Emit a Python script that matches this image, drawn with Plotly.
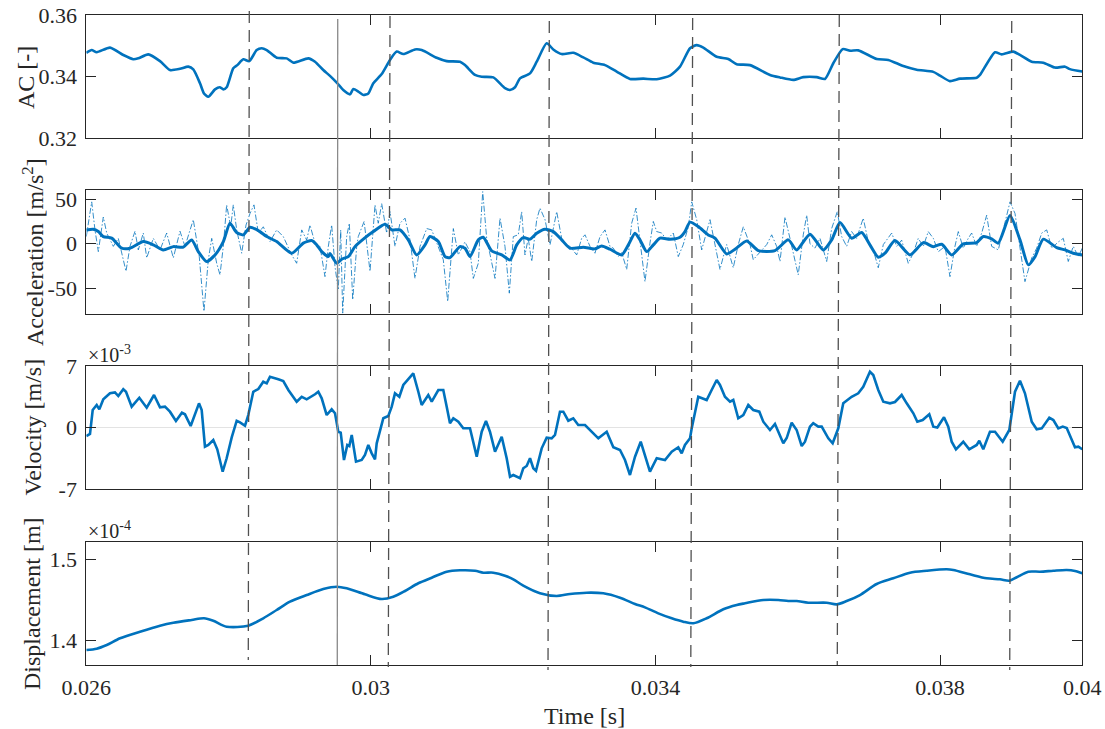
import numpy as np
import plotly.graph_objects as go

# ---------------- data (time in ms) ----------------
AC_T = [26.000, 26.076, 26.146, 26.333, 26.520, 26.661, 26.731, 26.871, 27.036, 27.176,
        27.317, 27.434, 27.504, 27.598, 27.654, 27.715, 27.809, 27.879, 27.926, 27.973,
        28.066, 28.122, 28.207, 28.291, 28.395, 28.465, 28.536, 28.676, 28.817, 28.910,
        29.120, 29.215, 29.331, 29.425, 29.520, 29.612, 29.707, 29.753, 29.823, 29.894,
        29.964, 30.034, 30.152, 30.269, 30.363, 30.456, 30.620, 30.714, 30.925, 31.066,
        31.253, 31.323, 31.464, 31.558, 31.721, 31.885, 31.956, 32.026, 32.096, 32.237,
        32.331, 32.471, 32.564, 32.682, 32.845, 32.986, 33.126, 33.291, 33.455, 33.642,
        33.829, 34.018, 34.205, 34.345, 34.486, 34.580, 34.673, 34.861, 35.024, 35.142,
        35.329, 35.610, 35.751, 35.938, 36.078, 36.267, 36.383, 36.500, 36.632, 36.735,
        36.851, 37.110, 37.273, 37.484, 37.672, 37.906, 38.000, 38.140, 38.281, 38.516,
        38.562, 38.773, 38.867, 39.030, 39.124, 39.289, 39.452, 39.616, 39.757, 39.827,
        40.000]
AC_V = [0.3477, 0.3486, 0.3479, 0.3494, 0.3470, 0.3456, 0.3459, 0.3472, 0.3450, 0.3421,
        0.3425, 0.3432, 0.3423, 0.3378, 0.3345, 0.3334, 0.3358, 0.3365, 0.3358, 0.3365,
        0.3427, 0.3437, 0.3456, 0.3450, 0.3486, 0.3492, 0.3486, 0.3461, 0.3459, 0.3445,
        0.3459, 0.3448, 0.3421, 0.3402, 0.3380, 0.3356, 0.3342, 0.3359, 0.3351, 0.3340,
        0.3345, 0.3378, 0.3408, 0.3454, 0.3481, 0.3473, 0.3488, 0.3486, 0.3461, 0.3450,
        0.3448, 0.3437, 0.3405, 0.3399, 0.3397, 0.3362, 0.3356, 0.3365, 0.3394, 0.3410,
        0.3448, 0.3508, 0.3488, 0.3473, 0.3477, 0.3462, 0.3445, 0.3437, 0.3416, 0.3392,
        0.3393, 0.3391, 0.3403, 0.3432, 0.3492, 0.3502, 0.3494, 0.3464, 0.3457, 0.3440,
        0.3437, 0.3405, 0.3397, 0.3389, 0.3398, 0.3398, 0.3392, 0.3443, 0.3489, 0.3484,
        0.3485, 0.3457, 0.3454, 0.3434, 0.3422, 0.3415, 0.3403, 0.3385, 0.3393, 0.3396,
        0.3405, 0.3479, 0.3472, 0.3481, 0.3470, 0.3448, 0.3445, 0.3429, 0.3432, 0.3424,
        0.3416]

ACC_RAW_T = [26.000, 26.076, 26.122, 26.169, 26.239, 26.287, 26.380, 26.450, 26.558, 26.614,
             26.685, 26.731, 26.801, 26.849, 26.942, 27.036, 27.130, 27.223, 27.317, 27.387,
             27.504, 27.588, 27.654, 27.715, 27.763, 27.833, 27.879, 27.926, 27.973, 28.030,
             28.066, 28.114, 28.184, 28.245, 28.301, 28.357, 28.418, 28.488, 28.582, 28.676,
             28.769, 28.887, 28.957, 29.028, 29.098, 29.144, 29.215, 29.285, 29.355, 29.402,
             29.449, 29.496, 29.542, 29.576, 29.604, 29.660, 29.697, 29.745, 29.801, 29.823,
             29.905, 29.988, 30.058, 30.104, 30.152, 30.222, 30.269, 30.339, 30.409, 30.480,
             30.550, 30.620, 30.691, 30.785, 30.855, 30.948, 31.018, 31.080, 31.159, 31.229,
             31.323, 31.393, 31.440, 31.510, 31.572, 31.628, 31.674, 31.745, 31.815, 31.885,
             31.946, 32.002, 32.072, 32.120, 32.166, 32.212, 32.261, 32.331, 32.377, 32.448,
             32.518, 32.612, 32.682, 32.729, 32.799, 32.893, 32.963, 33.010, 33.080, 33.150,
             33.221, 33.291, 33.361, 33.408, 33.478, 33.526, 33.596, 33.666, 33.727, 33.783,
             33.853, 33.923, 33.970, 34.018, 34.088, 34.158, 34.251, 34.321, 34.391, 34.462,
             34.510, 34.580, 34.650, 34.767, 34.837, 34.907, 34.954, 35.001, 35.094, 35.164,
             35.235, 35.329, 35.375, 35.470, 35.564, 35.634, 35.704, 35.751, 35.821, 35.891,
             36.007, 36.078, 36.126, 36.172, 36.242, 36.313, 36.407, 36.477, 36.556, 36.618,
             36.688, 36.758, 36.828, 36.921, 36.992, 37.062, 37.132, 37.203, 37.321, 37.391,
             37.461, 37.554, 37.625, 37.694, 37.765, 37.835, 37.906, 37.976, 38.070, 38.140,
             38.210, 38.257, 38.327, 38.397, 38.445, 38.516, 38.586, 38.656, 38.726, 38.819,
             38.889, 38.984, 39.054, 39.124, 39.194, 39.289, 39.359, 39.430, 39.500, 39.570,
             39.663, 39.733, 39.803, 39.873, 39.944, 40.000]
ACC_RAW_V = [8, 47, 15.5, -8.9, 30, 12, -3, 6, -31, -3,
             14, -7, 12, -16, 6, -7, 12, -16, 14, -3,
             27, -14.5, -76, -18, 6, -22, -35, -3, 43.6, 19,
             43.6, 15.5, -10.7, 21, 34, 43.6, 12, 19, 2.4, 15.5,
             8, -12.6, -22, 15.5, 4, 21, 0.6, -3, -37, -3,
             21, -26, -52, 15.5, -78, 8, 23, -63, -3, 8,
             25, -31, 43.6, 23, 45, 12, 36, -3, 23, 28.7,
             4.3, -39, -3, 17, 15.5, -3, -18, -65, 17, -12.6,
             2, -9, -39, -22, 58.5, 6, -12.6, -39, 28.7, -3,
             -55.6, 8, 10, 36, -12.6, 6, -20, 27, 40, 27,
             -1.3, 36, 6, -1.3, -3, -12.6, 6, 10, -3, -10.7,
             8, 15.5, -3, -5, -14.5, -10, -29, 23, 40, 6,
             -42.6, 0.6, 25, 13.6, 12, 4.3, 12, -14.5, -1, 19,
             47, 27, -7, 27, -1, -29, -14.5, -1, -27, -1,
             19, -1, -18, -9, -1, 10, -3, -20, 30, 6,
             -35, 10, 32, 0, -5, 6, -20, 17, 36, 8,
             -3, 13.6, 6, 28.7, 2, -7, -27, -1, 12, -3,
             4, -22, -10.5, 6, -3, 13.6, 6, -9, -3, -37,
             -3, 13.6, -5, 6, 12, -3, 12, 32, -3, -7,
             15.5, 47, 34, -3, -42.6, -16, -5, 12, 15.5, -5,
             2, 6, -20, -3, -14.5, -5]

ACC_SM_T = [26.000, 26.098, 26.169, 26.239, 26.357, 26.498, 26.614, 26.801, 26.942, 27.082,
            27.223, 27.363, 27.481, 27.574, 27.692, 27.809, 27.926, 28.020, 28.114, 28.207,
            28.301, 28.418, 28.536, 28.676, 28.887, 29.050, 29.168, 29.238, 29.309, 29.402,
            29.425, 29.520, 29.590, 29.683, 29.777, 29.894, 30.034, 30.199, 30.293, 30.409,
            30.526, 30.644, 30.761, 30.831, 30.948, 31.042, 31.112, 31.253, 31.323, 31.393,
            31.510, 31.580, 31.698, 31.839, 31.956, 32.050, 32.142, 32.237, 32.331, 32.448,
            32.564, 32.682, 32.799, 32.986, 33.150, 33.244, 33.361, 33.526, 33.619, 33.713,
            33.783, 33.877, 33.970, 34.064, 34.205, 34.345, 34.415, 34.486, 34.602, 34.742,
            34.837, 35.001, 35.118, 35.283, 35.446, 35.680, 35.867, 35.985, 36.172, 36.359,
            36.477, 36.594, 36.758, 36.899, 37.015, 37.132, 37.227, 37.367, 37.578, 37.765,
            37.906, 38.024, 38.164, 38.327, 38.516, 38.608, 38.726, 38.819, 38.984, 39.124,
            39.241, 39.336, 39.452, 39.640, 39.757, 39.873, 40.000]
ACC_SM_V = [15.5, 16.3, 13.6, 8.0, 6.2, -5.1, -5.1, 2.4, -1.3, -7.0,
            -3.3, -3.9, 4.3, -8.9, -20.1, -12.6, 2.4, 23.0, 12.5, 9.9,
            18.5, 14.7, 8.0, 2.4, -10.7, 0.6, 3.5, -1.3, -8.9, -14.5,
            -11.0, -21.9, -17.4, -14.5, -3.3, 5.1, 13.6, 21.9, 15.5, 15.5,
            4.3, -12.6, -1.3, 8.0, 2.4, -14.5, -15.6, -3.3, -5.1, -14.5,
            4.3, 7.3, -8.1, -12.6, -18.2, -1.3, 6.9, 5.1, 11.8, 16.3,
            13.6, 4.3, -5.1, -3.9, -5.8, -2.5, -6.2, -12.6, -1.3, 11.8,
            4.3, -8.9, -1.3, 6.2, 5.1, 7.3, 13.6, 24.2, 19.2, 9.9,
            6.2, -11.5, -6.2, 3.1, -7.8, -7.8, 4.3, -7.0, 10.7, -7.0,
            4.3, 23.7, 6.2, 12.5, -1.3, -15.2, -10.7, 3.5, -12.6, 1.2,
            -3.3, -0.6, -12.6, -0.2, 1.2, 8.0, 5.4, 0.6, 31.6, 4.3,
            -23.8, -14.5, 5.1, -4.4, -7.0, -10.7, -12.6]

# velocity in units of 1e-3 m/s
VEL_T = [26.000, 26.052, 26.090, 26.146, 26.183, 26.239, 26.333, 26.403, 26.450, 26.520,
         26.558, 26.638, 26.745, 26.849, 26.952, 27.036, 27.106, 27.176, 27.260, 27.344,
         27.387, 27.467, 27.584, 27.622, 27.668, 27.715, 27.785, 27.841, 27.917, 27.973,
         28.044, 28.114, 28.160, 28.231, 28.277, 28.347, 28.418, 28.488, 28.536, 28.582,
         28.699, 28.769, 28.840, 28.957, 29.028, 29.098, 29.215, 29.261, 29.309, 29.379,
         29.449, 29.496, 29.542, 29.576, 29.622, 29.669, 29.697, 29.731, 29.791, 29.871,
         29.917, 29.964, 30.012, 30.058, 30.082, 30.175, 30.245, 30.293, 30.339, 30.400,
         30.456, 30.512, 30.596, 30.667, 30.714, 30.807, 30.855, 30.948, 31.018, 31.066,
         31.112, 31.159, 31.229, 31.299, 31.393, 31.488, 31.558, 31.618, 31.674, 31.745,
         31.839, 31.909, 31.956, 32.002, 32.096, 32.142, 32.190, 32.237, 32.283, 32.321,
         32.401, 32.471, 32.541, 32.588, 32.658, 32.705, 32.775, 32.845, 32.915, 33.010,
         33.080, 33.197, 33.315, 33.408, 33.502, 33.572, 33.642, 33.713, 33.793, 33.853,
         33.923, 34.018, 34.134, 34.229, 34.321, 34.369, 34.415, 34.486, 34.510, 34.602,
         34.720, 34.790, 34.861, 34.907, 34.977, 35.048, 35.094, 35.164, 35.235, 35.305,
         35.375, 35.460, 35.516, 35.610, 35.680, 35.797, 35.845, 35.915, 35.985, 36.056,
         36.102, 36.172, 36.218, 36.289, 36.337, 36.430, 36.491, 36.570, 36.640, 36.758,
         36.851, 36.921, 37.015, 37.062, 37.132, 37.203, 37.297, 37.367, 37.461, 37.532,
         37.625, 37.681, 37.756, 37.849, 37.906, 37.962, 38.056, 38.116, 38.164, 38.224,
         38.327, 38.411, 38.516, 38.552, 38.608, 38.702, 38.773, 38.881, 38.974, 39.054,
         39.124, 39.194, 39.289, 39.359, 39.430, 39.536, 39.593, 39.663, 39.725, 39.781,
         39.897, 39.944, 40.000]
VEL_V = [-0.97, -0.74, 1.99, 2.56, 2.07, 3.21, 3.89, 4.00, 3.58, 4.35,
         4.07, 2.37, 3.39, 2.25, 3.70, 2.30, 2.37, 1.80, 0.74, 1.68,
         1.50, 0.17, 2.75, 1.99, -2.18, -1.99, -1.42, -2.48, -5.03, -3.50,
         -1.12, 0.77, 0.59, 0.20, 1.42, 4.07, 4.38, 5.21, 5.03, 5.78,
         5.49, 5.29, 4.27, 2.94, 3.50, 3.21, 3.78, 4.07, 3.32, 1.42,
         2.07, 1.62, -0.48, -0.59, -3.70, -1.99, -2.11, -0.85, -3.89, -3.70,
         -3.13, -1.99, -2.94, -3.62, -1.80, 1.05, 1.31, 2.37, 3.89, 3.50,
         4.84, 5.41, 6.17, 4.07, 2.56, 3.70, 2.94, 4.27, 4.27, 2.37,
         0.48, 1.05, 0.66, -0.09, -0.09, -3.32, -0.48, 0.74, -0.48, -2.75,
         -1.05, -3.50, -5.60, -5.41, -5.78, -4.64, -4.38, -3.50, -4.64, -4.92,
         -2.37, -1.16, -1.23, -0.85, 1.80, 1.80, 0.77, 1.05, 0.28, 0.28,
         -0.28, -1.23, -0.48, -2.25, -2.56, -3.70, -5.41, -3.32, -1.62, -3.32,
         -5.03, -3.50, -3.70, -2.75, -2.25, -2.94, -1.99, -1.23, -0.09, 3.50,
         3.13, 4.27, 5.41, 4.84, 3.50, 2.94, 3.13, 1.05, 1.42, 2.56,
         1.99, 1.80, 0.66, -0.28, 0.40, -1.80, -1.20, 0.55, -0.28, -2.11,
         -1.62, 0.09, 0.48, 0.10, 0.10, -1.23, -1.80, -0.09, 2.75, 3.50,
         3.89, 4.64, 6.35, 5.97, 4.27, 2.94, 2.75, 2.90, 3.70, 2.75,
         1.62, 0.66, 0.85, 1.50, 0.09, 0.00, 1.16, 0.10, -1.62, -2.48,
         -1.62, -2.48, -1.99, -1.50, -2.48, -0.48, -0.48, -1.62, -0.28, 4.07,
         5.33, 3.89, 0.66, -0.20, -0.10, 1.12, 0.85, -0.10, 0.10, -0.05,
         -2.25, -2.18, -2.48]

# displacement in units of 1e-4 m
DISP_T = [26.000, 26.146, 26.287, 26.474, 26.755, 27.036, 27.223, 27.481, 27.654, 27.785,
          27.973, 28.277, 28.488, 28.676, 28.863, 29.098, 29.331, 29.520, 29.660, 29.917,
          30.152, 30.315, 30.480, 30.667, 30.855, 31.066, 31.253, 31.464, 31.580, 31.721,
          31.885, 32.002, 32.142, 32.377, 32.612, 32.799, 33.034, 33.267, 33.502, 33.713,
          33.853, 34.040, 34.229, 34.391, 34.532, 34.720, 34.954, 35.142, 35.259, 35.516,
          35.727, 35.867, 35.985, 36.148, 36.407, 36.547, 36.688, 36.875, 37.110, 37.343,
          37.578, 37.813, 38.094, 38.187, 38.421, 38.656, 38.843, 38.974, 39.078, 39.241,
          39.406, 39.593, 39.781, 39.897, 40.000]
DISP_V = [1.3880, 1.3896, 1.3942, 1.4025, 1.4106, 1.4180, 1.4217, 1.4251, 1.4272, 1.4242,
          1.4168, 1.4180, 1.4272, 1.4374, 1.4477, 1.4559, 1.4633, 1.4662, 1.4642, 1.4568,
          1.4510, 1.4538, 1.4609, 1.4704, 1.4773, 1.4847, 1.4864, 1.4859, 1.4835, 1.4835,
          1.4798, 1.4753, 1.4674, 1.4580, 1.4547, 1.4572, 1.4588, 1.4580, 1.4526, 1.4448,
          1.4407, 1.4333, 1.4272, 1.4230, 1.4210, 1.4272, 1.4383, 1.4436, 1.4457, 1.4498,
          1.4498, 1.4485, 1.4485, 1.4464, 1.4464, 1.4444, 1.4485, 1.4559, 1.4695, 1.4765,
          1.4835, 1.4859, 1.4877, 1.4868, 1.4815, 1.4765, 1.4753, 1.4736, 1.4778, 1.4847,
          1.4847, 1.4859, 1.4868, 1.4856, 1.4827]

# event markers (ms): top and bottom ends of each marker line
EVENT_TOP_MS = [28.291, 30.269, 32.508, 34.523, 36.584, 39.008]
EVENT_BOT_MS = [28.277, 30.245, 32.490, 34.497, 36.556, 38.980]
REF_TOP_MS, REF_BOT_MS = 29.534, 29.528

X_TICKS = [0.026, 0.03, 0.034, 0.038, 0.04]
X_TICKTEXT = ["0.026", "0.03", "0.034", "0.038", "0.04"]

for a, b in [(AC_T, AC_V), (ACC_RAW_T, ACC_RAW_V), (ACC_SM_T, ACC_SM_V),
             (VEL_T, VEL_V), (DISP_T, DISP_V)]:
    assert len(a) == len(b)

# ---------------- figure ----------------
W, H = 1105, 729
BLUE = "#0072BD"
INK = "#262626"
FONT = "Liberation Serif, Times New Roman, serif"
TICK_FS = 22
LABEL_FS = 24

def sec(ms):
    return np.asarray(ms) * 1e-3

def py(pix):  # pixel row -> paper fraction
    return (H - pix) / H

def px(pix):
    return pix / W

X_LEFT, X_RIGHT = 86.3, 1082.3
panels = [(15, 138), (190.3, 314), (366, 489), (542.3, 665)]

fig = go.Figure()
fig.add_trace(go.Scatter(x=sec(AC_T), y=AC_V, mode="lines", xaxis="x", yaxis="y",
                         line=dict(color=BLUE, width=2.6, shape="spline", smoothing=0.6)))
fig.add_trace(go.Scatter(x=sec(ACC_RAW_T), y=ACC_RAW_V, mode="lines", xaxis="x2", yaxis="y2",
                         line=dict(color=BLUE, width=0.8, dash="6px,2px,1.5px,2px")))
fig.add_trace(go.Scatter(x=sec(ACC_SM_T), y=ACC_SM_V, mode="lines", xaxis="x2", yaxis="y2",
                         line=dict(color=BLUE, width=3, shape="spline", smoothing=0.6)))
fig.add_trace(go.Scatter(x=sec(VEL_T), y=VEL_V, mode="lines", xaxis="x3", yaxis="y3",
                         line=dict(color=BLUE, width=2.6)))
fig.add_trace(go.Scatter(x=sec(DISP_T), y=DISP_V, mode="lines", xaxis="x4", yaxis="y4",
                         line=dict(color=BLUE, width=2.6, shape="spline", smoothing=0.8)))

common_x = dict(range=[0.026, 0.04], domain=[px(X_LEFT), px(X_RIGHT)], automargin=False,
                showline=True, mirror="ticks", linecolor=INK, linewidth=1,
                ticks="inside", ticklen=10, tickwidth=1, tickcolor=INK,
                tickvals=X_TICKS, ticktext=X_TICKTEXT, showgrid=False, zeroline=False,
                tickfont=dict(family=FONT, size=TICK_FS, color=INK))
common_y = dict(showline=True, mirror="ticks", linecolor=INK, linewidth=1, automargin=False,
                ticks="inside", ticklen=10, tickwidth=1, tickcolor=INK,
                showgrid=False, zeroline=False, ticklabelstandoff=4,
                tickfont=dict(family=FONT, size=TICK_FS, color=INK))

y_specs = [
    dict(range=[0.32, 0.36], tickvals=[0.32, 0.34, 0.36], ticktext=["0.32", "0.34", "0.36"]),
    dict(range=[-79, 60], tickvals=[-50, 0, 50], ticktext=["-50", "0", "50"]),
    dict(range=[-7, 7], tickvals=[-7, 0, 7], ticktext=["-7", "0", "7"],
         zeroline=True, zerolinecolor="#e3e3e3", zerolinewidth=1),
    dict(range=[1.3695, 1.521], tickvals=[1.4, 1.5], ticktext=["1.4", "1.5"]),
]

layout = dict(width=W, height=H, autosize=False, showlegend=False,
              margin=dict(l=0, r=0, t=0, b=0, autoexpand=False),
              plot_bgcolor="white", paper_bgcolor="white",
              font=dict(family=FONT, color=INK))
for i, ((top, bot), ys) in enumerate(zip(panels, y_specs), start=1):
    sfx = "" if i == 1 else str(i)
    xa = dict(common_x, anchor="y" + sfx, showticklabels=(i == 4), ticklabelstandoff=3)
    ya = dict(common_y, anchor="x" + sfx, domain=[py(bot), py(top)])
    ya.update(ys)
    layout["xaxis" + sfx] = xa
    layout["yaxis" + sfx] = ya
fig.update_layout(**layout)

# axis titles
titles = [("AC [-]", 26, 78), ("Acceleration [m/s<sup>2</sup>]", 33, 252),
          ("Velocity [m/s]", 33, 427.5), ("Displacement [m]", 32, 604)]
for text, cx, cy in titles:
    fig.add_annotation(text=text, x=px(cx), y=py(cy), xref="paper", yref="paper",
                       textangle=-90, showarrow=False, xanchor="center", yanchor="middle",
                       font=dict(family=FONT, size=LABEL_FS, color=INK))
fig.add_annotation(text="Time [s]", x=px(584), y=py(716), xref="paper", yref="paper",
                   showarrow=False, xanchor="center", yanchor="middle",
                   font=dict(family=FONT, size=LABEL_FS, color=INK))
for text, cy in [("×10<sup>-3</sup>", 354), ("×10<sup>-4</sup>", 530)]:
    fig.add_annotation(text=text, x=px(86), y=py(cy), xref="paper", yref="paper",
                       showarrow=False, xanchor="left", yanchor="middle",
                       font=dict(family=FONT, size=20, color=INK))

# event marker lines spanning all panels
ev_top_px = [11, 16, 21, 18, 15, 21]
ev_bot_px = [660, 667, 670, 667, 665, 670]
for t0, t1, y0, y1 in zip(EVENT_TOP_MS, EVENT_BOT_MS, ev_top_px, ev_bot_px):
    fig.add_shape(type="line", xref="x4", yref="paper",
                  x0=t0 * 1e-3, x1=t1 * 1e-3, y0=py(y0), y1=py(y1),
                  line=dict(color="#505050", width=1.3, dash="12px,7px"), layer="above")
fig.add_shape(type="line", xref="x4", yref="paper",
              x0=REF_TOP_MS * 1e-3, x1=REF_BOT_MS * 1e-3, y0=py(19), y1=py(665),
              line=dict(color="#8a8a8a", width=1.3), layer="above")

fig.write_html("out.html")
